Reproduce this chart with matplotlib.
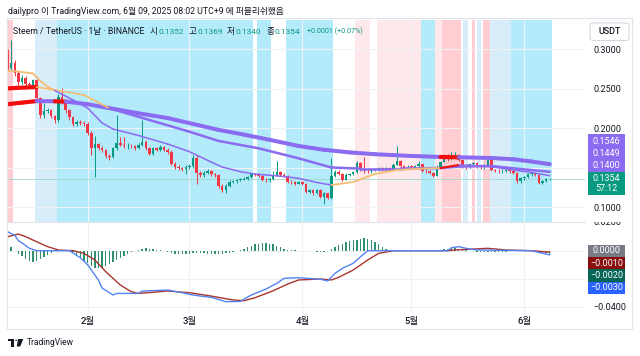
import matplotlib
matplotlib.use('Agg')
import matplotlib.pyplot as plt
import matplotlib.dates as mdates
from matplotlib.patches import Rectangle, FancyBboxPatch, Polygon, Circle
from matplotlib.transforms import Bbox, TransformedBbox
import numpy as np
import pandas as pd

plt.rcParams['font.family'] = ['Roboto', 'Noto Sans CJK KR', 'DejaVu Sans']

# ---- data (daily candles) ----
first_date = '2025-01-10'
first_open = 0.291
closes = [0.276, 0.283, 0.270, 0.259, 0.264, 0.256, 0.2545, 0.261, 0.2385, 0.217,
          0.222, 0.2235, 0.215, 0.2105, 0.240, 0.234, 0.223, 0.214, 0.2055, 0.2085,
          0.207, 0.206, 0.1937, 0.1747, 0.1797, 0.1747, 0.1725, 0.165, 0.1635, 0.1745,
          0.181, 0.179, 0.1775, 0.178, 0.177, 0.1755, 0.179, 0.183, 0.1747, 0.168,
          0.1745, 0.173, 0.1767, 0.173, 0.1705, 0.155, 0.1506, 0.1495, 0.149, 0.151,
          0.1525, 0.162, 0.143, 0.1408, 0.144, 0.146, 0.142, 0.1405, 0.127, 0.1215,
          0.1275, 0.1325, 0.133, 0.1345, 0.135, 0.136, 0.1387, 0.1423, 0.1415, 0.1395,
          0.135, 0.134, 0.1355, 0.141, 0.1445, 0.1415, 0.1395, 0.1324, 0.1315, 0.130,
          0.1315, 0.130, 0.1197, 0.1215, 0.118, 0.1215, 0.1134, 0.1175, 0.112, 0.140,
          0.145, 0.1425, 0.135, 0.1415, 0.1425, 0.1445, 0.156, 0.148, 0.146, 0.1455,
          0.147, 0.148, 0.1495, 0.148, 0.1495, 0.1485, 0.154, 0.159, 0.152, 0.150,
          0.1515, 0.151, 0.1525, 0.1545, 0.1465, 0.1455, 0.1435, 0.1396, 0.1514, 0.1577,
          0.166, 0.161, 0.165, 0.1665, 0.1605, 0.1535, 0.151, 0.1545, 0.1555, 0.1515,
          0.1505, 0.1535, 0.160, 0.1473, 0.1465, 0.1455, 0.1465, 0.1475, 0.1455, 0.1438,
          0.133, 0.1365, 0.1385, 0.142, 0.143, 0.1405, 0.1304, 0.1335, 0.1352, 0.1354]
highs = [0.300, 0.312, 0.286, 0.272, 0.267, 0.266, 0.259, 0.263, 0.263, 0.240,
         0.232, 0.226, 0.225, 0.217, 0.244, 0.251, 0.236, 0.225, 0.216, 0.211,
         0.211, 0.209, 0.208, 0.196, 0.190, 0.182, 0.177, 0.174, 0.167, 0.176,
         0.217, 0.189, 0.189, 0.181, 0.180, 0.179, 0.181, 0.2105, 0.185, 0.176,
         0.176, 0.176, 0.179, 0.178, 0.175, 0.172, 0.157, 0.153, 0.151, 0.153,
         0.155, 0.166, 0.166, 0.146, 0.146, 0.148, 0.147, 0.144, 0.142, 0.129,
         0.129, 0.134, 0.135, 0.136, 0.137, 0.138, 0.140, 0.144, 0.144, 0.143,
         0.141, 0.137, 0.137, 0.146, 0.158, 0.146, 0.143, 0.141, 0.134, 0.133,
         0.133, 0.133, 0.131, 0.123, 0.123, 0.123, 0.123, 0.119, 0.118, 0.163,
         0.147, 0.147, 0.144, 0.143, 0.144, 0.146, 0.159, 0.157, 0.164, 0.148,
         0.149, 0.150, 0.151, 0.151, 0.151, 0.151, 0.156, 0.1776, 0.160, 0.153,
         0.153, 0.153, 0.154, 0.1584, 0.155, 0.148, 0.147, 0.145, 0.153, 0.159,
         0.168, 0.167, 0.1704, 0.1705, 0.167, 0.161, 0.155, 0.156, 0.157, 0.157,
         0.153, 0.155, 0.162, 0.161, 0.149, 0.148, 0.148, 0.149, 0.149, 0.147,
         0.145, 0.138, 0.140, 0.144, 0.145, 0.144, 0.142, 0.135, 0.137, 0.1369]
lows = [0.272, 0.272, 0.266, 0.2535, 0.256, 0.253, 0.251, 0.252, 0.236, 0.213,
        0.213, 0.219, 0.213, 0.207, 0.208, 0.231, 0.220, 0.211, 0.203, 0.203,
        0.204, 0.203, 0.191, 0.166, 0.1387, 0.172, 0.170, 0.162, 0.160, 0.162,
        0.173, 0.177, 0.175, 0.174, 0.175, 0.173, 0.174, 0.177, 0.172, 0.166,
        0.166, 0.171, 0.171, 0.171, 0.168, 0.153, 0.148, 0.147, 0.146, 0.142,
        0.149, 0.150, 0.129, 0.138, 0.138, 0.142, 0.140, 0.138, 0.125, 0.119,
        0.118, 0.126, 0.131, 0.131, 0.133, 0.134, 0.135, 0.137, 0.140, 0.138,
        0.133, 0.132, 0.132, 0.134, 0.140, 0.140, 0.138, 0.131, 0.130, 0.128,
        0.129, 0.128, 0.118, 0.118, 0.116, 0.117, 0.1114, 0.104, 0.110, 0.110,
        0.138, 0.141, 0.133, 0.134, 0.140, 0.141, 0.143, 0.146, 0.144, 0.144,
        0.144, 0.146, 0.146, 0.146, 0.147, 0.147, 0.147, 0.153, 0.150, 0.148,
        0.149, 0.149, 0.150, 0.151, 0.145, 0.144, 0.142, 0.138, 0.139, 0.150,
        0.157, 0.159, 0.160, 0.164, 0.159, 0.150, 0.149, 0.150, 0.153, 0.150,
        0.149, 0.149, 0.152, 0.146, 0.145, 0.144, 0.144, 0.145, 0.144, 0.142,
        0.131, 0.131, 0.135, 0.137, 0.140, 0.139, 0.129, 0.129, 0.132, 0.1340]

# moving-average lines: sample day index, value, colour code per segment
ma_a_idx = [0, 4, 8, 13, 16, 22, 28, 36, 44, 51, 58, 65, 72, 80, 87, 94, 101, 110, 119, 124, 133, 139, 144, 149]
ma_a_val = [0.2305, 0.2325, 0.2345, 0.2342, 0.2338, 0.2305, 0.2255, 0.219, 0.213, 0.2055, 0.198, 0.192,
            0.1855, 0.1776, 0.1728, 0.1695, 0.1672, 0.1652, 0.1637, 0.1633, 0.1624, 0.1608, 0.158, 0.1546]
ma_a_col = ['r', 'r', 'p', 'r', 'p', 'p', 'p', 'p', 'p', 'p', 'p', 'p',
            'p', 'p', 'p', 'p', 'p', 'p', 'r', 'p', 'p', 'p', 'p', 'p']
ma_b_idx = [0, 8, 13, 21, 28, 39, 50, 58, 69, 80, 89, 97, 108, 119, 124, 133, 139, 149]
ma_b_val = [0.2506, 0.2523, 0.2485, 0.2422, 0.2253, 0.2105, 0.1957, 0.184, 0.1747, 0.162, 0.1504,
            0.149, 0.149, 0.1497, 0.1516, 0.1523, 0.1494, 0.1449]
ma_b_col = ['r', 'o', 'o', 'o', 'p', 'p', 'p', 'p', 'p', 'p', 'p', 'p', 'p', 'p', 'p', 'p', 'p', 'p']
ma_c_idx = [0, 3, 7, 9, 11, 13, 18, 22, 26, 29, 36, 44, 50, 56, 59, 64, 68, 76, 80, 85,
            89, 95, 101, 107, 114, 119, 124, 128, 133, 139, 144, 149]
ma_c_val = [0.2729, 0.2719, 0.2694, 0.2599, 0.2527, 0.2478, 0.2358, 0.2257, 0.2067, 0.1991, 0.1909,
            0.1801, 0.1704, 0.1573, 0.151, 0.1451, 0.1421, 0.139, 0.1367, 0.1314, 0.1282, 0.132,
            0.1422, 0.1472, 0.1491, 0.1497, 0.1535, 0.1529, 0.1514, 0.1472, 0.1441, 0.1400]
ma_c_col = ['o', 'o', 'o', 'o', 'o', 'p', 'p', 'p', 'p', 'p', 'p', 'p', 'p', 'p', 'p', 'p', 'p', 'p', 'p', 'p',
            'o', 'o', 'o', 'o', 'o', 'r', 'p', 'p', 'p', 'p', 'p', 'p']

# background zones (start/end day index, kind)
band_start = [-0.5, 7.5, 13.5, 68.5, 76.5, 95.5, 101.5, 113.5, 117.5, 119.5, 125.3, 127.6, 129.0, 130.6, 132.5, 138.5]
band_end = [1.5, 13.5, 67.5, 72.5, 89.5, 99.5, 113.5, 117.5, 119.5, 124.5, 126.5, 128.4, 130.0, 132.5, 138.5, 149.5]
band_kind = ['red', 'lblue', 'cyan', 'cyan', 'cyan', 'lpink', 'lpink', 'cyan', 'lpink', 'red',
             'lblue', 'red', 'lblue', 'red', 'lblue', 'cyan']

# MACD panel
macd_idx = [0, 2, 3, 4, 6, 8, 17, 20, 22, 25, 26, 29, 30, 36, 37, 44, 48, 50, 53, 56, 60, 64, 67, 71,
            74, 76, 80, 86, 88, 90, 92, 95, 97, 99, 121, 122, 124, 126, 129, 144, 146, 149]
macd_val = [0.0136, 0.011, 0.0071, 0.0055, 0.0017, 0.0, 0.0, -0.005, -0.010, -0.021, -0.0267, -0.0316,
            -0.0305, -0.0305, -0.0288, -0.0281, -0.030, -0.0312, -0.0324, -0.0333, -0.0364, -0.0362,
            -0.0316, -0.0274, -0.0233, -0.0197, -0.0193, -0.0204, -0.0216, -0.0162, -0.0126, -0.009,
            -0.0043, 0.0, 0.0, 0.0021, 0.0029, 0.0017, 0.0005, 0.0, -0.0012, -0.003]
signal_idx = [0, 3, 5, 8, 11, 14, 18, 21, 24, 27, 31, 34, 36, 44, 50, 56, 62, 65, 68, 73, 77, 80,
              86, 89, 91, 95, 99, 102, 106, 121, 124, 132, 137, 144, 149]
signal_val = [0.010, 0.0119, 0.010, 0.0064, 0.0029, 0.0005, 0.0, -0.0019, -0.0066, -0.015, -0.0245,
              -0.0293, -0.0305, -0.0288, -0.030, -0.0324, -0.0352, -0.0357, -0.0336, -0.0286, -0.0238,
              -0.0209, -0.0202, -0.0209, -0.019, -0.0138, -0.0066, -0.0019, 0.0, 0.0, 0.0007, 0.0017,
              0.0005, 0.0, -0.001]
hist = [0.004, 0.003, 0.0,
        -0.002, -0.004, -0.006, -0.0075, -0.0078, -0.007, -0.006, -0.0045, -0.003, -0.0015,
        -0.0005, 0, 0, 0, 0,
        -0.001, -0.003, -0.005, -0.007, -0.009, -0.011, -0.012, -0.0126, -0.012, -0.011, -0.0095,
        -0.008, -0.0065, -0.005, -0.0035, -0.002, -0.001, -0.0005,
        0.0008, 0.0015, 0.0018, 0.0015, 0.001, 0.0005,
        0.0002, -0.0005, -0.001, -0.0015,
        -0.002, -0.0022, -0.0024, -0.0022, -0.002, -0.0018, -0.0015, -0.0015, -0.0018, -0.002,
        -0.0022, -0.0024, -0.0022, -0.002, -0.0018, -0.0015, -0.001, -0.0005,
        0.0005, 0.0015, 0.0025, 0.0035, 0.0045, 0.005, 0.0052, 0.0053, 0.005, 0.0045, 0.0035,
        0.0025, 0.0015, 0.0008,
        0.0005, 0.0003, 0.0, -0.0003, -0.0005, -0.0005, -0.0005,
        -0.0008, -0.001, -0.0008, -0.0003,
        0.0015, 0.003, 0.004, 0.005, 0.006, 0.0068, 0.0075, 0.008, 0.0085, 0.0088, 0.0085, 0.0075,
        0.006, 0.0045, 0.003, 0.0015,
        0.0008, 0.0004, 0.0002, 0, 0, 0,
        0, 0, 0, 0, 0, 0, 0, 0, 0.0005, 0.001,
        0.0015, 0.0018, 0.0018, 0.0015, 0.001, 0.0005, 0.0,
        -0.0005, -0.0008, -0.001, -0.0012, -0.0012, -0.0012, -0.001, -0.001, -0.0008, -0.0006,
        -0.0004, -0.0002,
        -0.0001, 0, 0.0, -0.0002, -0.0005, -0.0008, -0.0012, -0.0015, -0.0018, -0.002]

price_ticks = [0.10, 0.15, 0.20, 0.25, 0.30]
price_hidden = [0.15]          # covered by the value boxes
macd_ticks = [0.0, -0.02, -0.04]
macd_hidden = [0.0, -0.02]
ma_last = [0.1546, 0.1449, 0.1400]
macd_last = [0.0000, -0.0010, -0.0020, -0.0030]

header = 'dailypro 이 TradingView.com, 6월 09, 2025 08:02 UTC+9 에 퍼블리쉬했음'
symbol = 'Steem / TetherUS · 1날 · BINANCE'
change = '+0.0001 (+0.07%)'
ohlc_labels = ['시', '고', '저', '종']
ohlc_values = [closes[-2], highs[-1], lows[-1], closes[-1]]

# ---- style ----
W, H = 640, 356
def fx(px): return px / W
def fy(py): return 1 - py / H

UP, DOWN = '#089981', '#f23645'
DARK = '#131722'
GRID = '#eef1f6'
BAND = {'red': '#ffcdd2', 'lpink': '#ffe8eb', 'cyan': '#b3ebfa', 'lblue': '#d7edf9'}
MA_COL = {'r': '#f20d0d', 'o': '#f6bd72', 'p': '#8b6cf0'}
PURPLE = '#8b6cf0'

fig = plt.figure(figsize=(6.4, 3.56), dpi=100)
renderer = fig.canvas.get_renderer()

def size_for(s, target_px, base=7.0):
    t = fig.text(0, 0, s, fontsize=base)
    w = t.get_window_extent(renderer).width
    t.remove()
    return base * target_px / w

num_fs = size_for('0.1352', 28.0)

ax = fig.add_axes([fx(7), fy(222), fx(585) - fx(7), fy(20) - fy(222)])
ax2 = fig.add_axes([fx(7), fy(314), fx(585) - fx(7), fy(222) - fy(314)])

dates = pd.date_range(first_date, periods=len(closes), freq='D')
xs = mdates.date2num(dates)
x0 = xs[0]
c = np.array(closes)
o = np.array([first_open] + closes[:-1])
hi = np.array(highs)
lo = np.array(lows)
col = np.where(c >= o, UP, DOWN)

for s, e, k in zip(band_start, band_end, band_kind):
    ax.axvspan(x0 + s, x0 + e, color=BAND[k], lw=0, zorder=0.2)

ax.axhline(closes[-1], color='#9fd8ca', lw=0.6, zorder=2)
ax.vlines(xs, lo, hi, colors=col, lw=0.7, zorder=3)
body = np.maximum(np.abs(c - o), 0.0007)
ax.bar(xs, body, bottom=np.minimum(o, c), width=0.7, color=col, lw=0, zorder=4)

def draw_ma(idx, val, cols, widths):
    for k in range(len(idx) - 1):
        ax.plot([x0 + idx[k], x0 + idx[k + 1]], [val[k], val[k + 1]],
                color=MA_COL[cols[k]], lw=widths[cols[k]], solid_capstyle='round', zorder=5)

draw_ma(ma_a_idx, ma_a_val, ma_a_col, {'r': 3.0, 'o': 1.2, 'p': 2.9})
draw_ma(ma_b_idx, ma_b_val, ma_b_col, {'r': 3.0, 'o': 1.2, 'p': 1.8})
draw_ma(ma_c_idx, ma_c_val, ma_c_col, {'r': 1.5, 'o': 1.3, 'p': 1.1})

xlim = (x0 - 0.15, x0 + 158.7)
for a in (ax, ax2):
    a.set_xlim(*xlim)
    a.xaxis.set_major_locator(mdates.MonthLocator())
    a.set_axisbelow(True)
    a.grid(color=GRID, lw=0.8)
    for sp in a.spines.values():
        sp.set_visible(False)
    a.yaxis.tick_right()
    a.tick_params(axis='y', length=0, pad=6.0, labelsize=num_fs, labelcolor=DARK)

def fmt(v):
    return f'{v:.4f}'.replace('-', '\u2212')

ax.set_ylim(0.0814, 0.3371)
ax.set_yticks(price_ticks)
ax.set_yticklabels(['' if v in price_hidden else fmt(v) for v in price_ticks])
ax.tick_params(axis='x', length=0, labelbottom=False)

ax2.bar(xs, hist, width=0.38, color='#2f8f73', lw=0, zorder=2)
ax2.plot(x0 + np.array(signal_idx), signal_val, color='#a9342f', lw=1.0, zorder=3)
ax2.plot(x0 + np.array(macd_idx), macd_val, color='#5383f2', lw=1.0, zorder=4)
ax2.set_ylim(-0.0452, 0.0205)
ax2.set_yticks(macd_ticks)
ax2.set_yticklabels(['' if v in macd_hidden else fmt(v) for v in macd_ticks])
ax2.xaxis.set_major_formatter(plt.FuncFormatter(lambda v, p: f'{mdates.num2date(v).month}월'))
ax2.tick_params(axis='x', length=0, pad=2, labelsize=num_fs + 0.3, labelcolor=DARK)
for lbl in ax2.get_xticklabels():
    lbl.set_fontweight('medium')
ax2.spines['top'].set_visible(True)
ax2.spines['top'].set_color('#e0e3eb')
ax2.spines['top'].set_linewidth(0.8)

# 0.0200 label half hidden at the panel join
t02 = fig.text(fx(594), fy(222.5), '0.0200', fontsize=num_fs, color=DARK, va='center', ha='left')
t02.set_clip_box(TransformedBbox(Bbox.from_extents(0, 0, 1, fy(221.5)), fig.transFigure))
t02.set_clip_on(True)

# outer frame
fig.add_artist(Rectangle((fx(7), fy(329)), fx(632) - fx(7), fy(18) - fy(329),
                         transform=fig.transFigure, fill=False, ec='#e0e3eb', lw=0.8))

# right-hand value boxes
def box(l, t, r, b, color):
    fig.add_artist(Rectangle((fx(l), fy(b)), fx(r) - fx(l), fy(t) - fy(b),
                             transform=fig.transFigure, fc=color, ec='none', zorder=6))

def boxtext(py, s):
    fig.text(fx(606.5), fy(py), s, fontsize=num_fs, color='white', ha='center', va='center', zorder=7)

box(588, 134, 625, 172, PURPLE)
for py, v in zip([141, 153.5, 166], ma_last):
    boxtext(py, fmt(v))
box(588, 172, 625, 195, UP)
boxtext(178.5, fmt(closes[-1]))
boxtext(188.5, '57:12')

macd_box_col = ['#787b86', '#880e0e', '#056656', '#2962ff']
for k, (v, bc) in enumerate(zip(macd_last, macd_box_col)):
    top = 244.5 + k * 12.4
    box(588, top, 625, top + 12.4, bc)
    boxtext(top + 6.2, fmt(v))

fig.add_artist(FancyBboxPatch((fx(590), fy(40.5)), fx(629) - fx(590), fy(23) - fy(40.5),
                              boxstyle='round,pad=0,rounding_size=0.006', transform=fig.transFigure,
                              fc='white', ec='#d1d4dc', lw=0.7, zorder=6))
fig.text(fx(609.5), fy(31.8), 'USDT', fontsize=num_fs, color=DARK, ha='center', va='center',
         fontweight='medium', zorder=7)

# header and legend texts
fig.text(fx(8), fy(11.5), header, fontsize=size_for(header, 278), color=DARK, va='center')
ly = fy(31.5)
fig.text(fx(13), ly, symbol, fontsize=size_for(symbol, 132), color=DARK, va='center', zorder=7)
val_fs = size_for('0.1352', 25.5)
for px_lab, lab, val in zip([150, 189, 227, 266.5], ohlc_labels, ohlc_values):
    t = fig.text(fx(px_lab), ly, lab, fontsize=6.2, color=DARK, va='center', zorder=7)
    w = t.get_window_extent(renderer).width
    fig.text(fx(px_lab + w + 0.4), ly, fmt(val), fontsize=val_fs, color=UP, va='center', zorder=7)
fig.text(fx(307), ly, change, fontsize=size_for(change, 56), color=UP, va='center', zorder=7)

# TradingView logo
tf = fig.transFigure
fig.add_artist(Polygon([(fx(7.5), fy(339)), (fx(14), fy(339)), (fx(14), fy(346.5)), (fx(10.8), fy(346.5)),
                        (fx(10.8), fy(341.3)), (fx(7.5), fy(341.3))], closed=True, transform=tf, fc=DARK, ec='none'))
fig.add_artist(Circle((fx(16.2), fy(340.3)), 1.1 / W, transform=tf, fc=DARK, ec='none'))
fig.add_artist(Polygon([(fx(18.0), fy(339)), (fx(23.3), fy(339)), (fx(20.2), fy(346.5)), (fx(16.8), fy(346.5))],
                       closed=True, transform=tf, fc=DARK, ec='none'))
fig.text(fx(27), fy(342.8), 'TradingView', fontsize=size_for('TradingView', 48), color=DARK, va='center')

fig.savefig('out.png', dpi=100)
